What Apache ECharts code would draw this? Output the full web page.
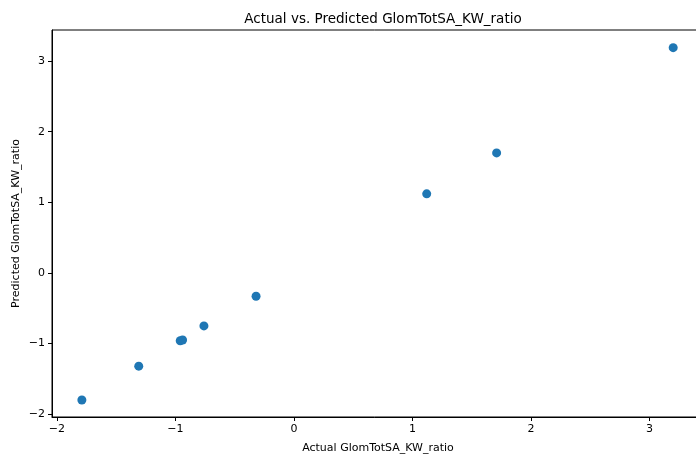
<!DOCTYPE html>
<html>
<head>
<meta charset="utf-8">
<script src="https://cdn.jsdelivr.net/npm/echarts@6/dist/echarts.min.js"></script>
<style>
  html, body { margin: 0; padding: 0; background: #fff; }
  #chart { width: 696px; height: 457px; }
</style>
</head>
<body>
<div id="chart"></div>
<script>
// values
const actual = [-1.79, -1.31, -0.96, -0.94, -0.76, -0.32, 1.12, 1.71, 3.20]
const predicted = [-1.80, -1.32, -0.96, -0.95, -0.75, -0.33, 1.12, 1.70, 3.19]
const tickValues = [-2, -1, 0, 1, 2, 3]

const font = 'DejaVu Sans'
const points = actual.map((x, i) => [x, predicted[i]])

const chart = echarts.init(document.getElementById('chart'))

const axisCommon = {
  type: 'value',
  nameLocation: 'middle',
  nameTextStyle: { fontFamily: font, fontSize: 11, color: '#000' },
  axisLine: { show: true, onZero: false, lineStyle: { color: '#000', width: 1 } },
  axisTick: { show: true, inside: false, length: 4, lineStyle: { color: '#000' }, customValues: tickValues },
  axisLabel: { fontFamily: font, fontSize: 11, color: '#000', customValues: tickValues,
    formatter: v => (v < 0 ? '\u2212' + Math.abs(v) : String(v)) },
  splitLine: { show: false }
}

chart.setOption({
  animation: false,
  backgroundColor: '#fff',
  title: {
    text: 'Actual vs. Predicted GlomTotSA_KW_ratio',
    left: 378,
    textAlign: 'center',
    top: 7,
    textStyle: { fontFamily: font, fontSize: 13.5, fontWeight: 'normal', color: '#000' }
  },
  grid: {
    left: 52,
    top: 30,
    width: 652,
    height: 387,
    outerBoundsMode: 'none',
    show: true,
    borderColor: '#000',
    borderWidth: 1
  },
  xAxis: Object.assign({}, axisCommon, {
    name: 'Actual GlomTotSA_KW_ratio',
    nameGap: 26,
    min: -2.042,
    max: 3.46,
    axisLabel: Object.assign({}, axisCommon.axisLabel, { margin: 7 })
  }),
  yAxis: Object.assign({}, axisCommon, {
    name: 'Predicted GlomTotSA_KW_ratio',
    nameGap: 30,
    nameMoveOverlap: false,
    min: -2.04,
    max: 3.44,
    axisLabel: Object.assign({}, axisCommon.axisLabel, { margin: 7 })
  }),
  series: [{
    type: 'scatter',
    data: points,
    symbolSize: 9,
    itemStyle: { color: '#1f77b4', opacity: 1 }
  }]
})
</script>
</body>
</html>
